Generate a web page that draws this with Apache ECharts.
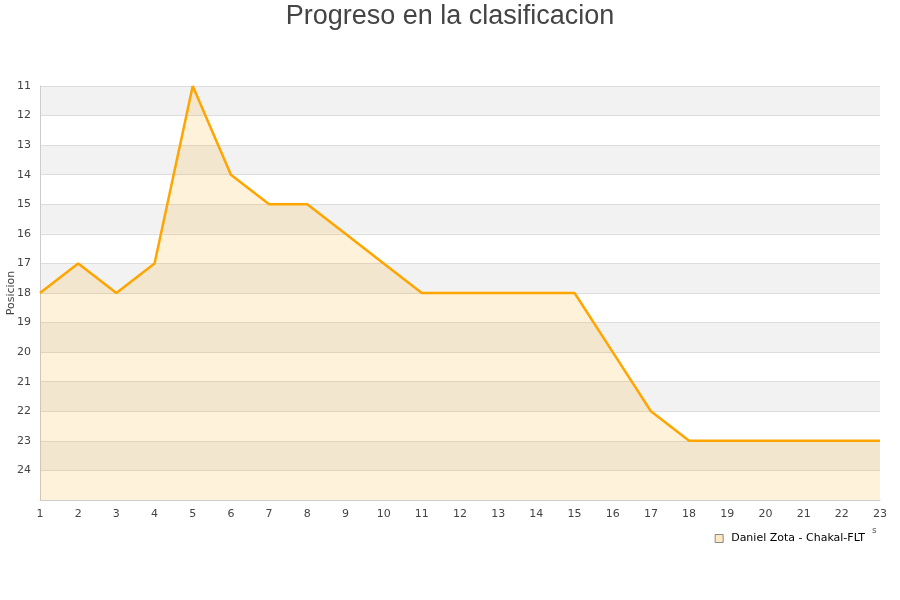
<!DOCTYPE html>
<html>
<head>
<meta charset="utf-8">
<script src="https://cdn.jsdelivr.net/npm/echarts@6/dist/echarts.min.js"></script>
<style>html,body{margin:0;padding:0;background:#fff}#c{width:900px;height:600px}</style>
</head>
<body>
<div id="c"></div>
<script>
const jornadas = ['1','2','3','4','5','6','7','8','9','10','11','12','13','14','15','16','17','18','19','20','21','22','23'];
const posiciones = [18,17,18,17,11,14,15,15,16,17,18,18,18,18,18,20,22,23,23,23,23,23,23];
const seriesName = 'Daniel Zota - Chakal-FLT';
const titleText = 'Progreso en la clasificacion';
const yName = 'Posicion';

const chart = echarts.init(document.getElementById('c'));
chart.setOption({
  animation: false,
  title: { text: titleText, left: 'center', top: -2, textStyle: { fontSize: 27, fontWeight: 'normal', color: '#444', fontFamily: 'Liberation Sans' } },
  grid: { left: 40, right: 20, top: 86, bottom: 100, containLabel: false, outerBoundsMode: 'none' },
  legend: {
    right: 30, top: 528, itemWidth: 8, itemHeight: 8, icon: 'rect',
    textStyle: { fontSize: 11, color: '#000', fontFamily: 'DejaVu Sans', padding: [0, 0, 0, 3] },
    data: [{ name: seriesName, itemStyle: { color: '#fde9c4', borderColor: '#888', borderWidth: 1 } }]
  },
  graphic: [
    { type: 'text', left: 872, top: 526, style: { text: 's', fontSize: 9, fill: '#555', fontFamily: 'DejaVu Sans' } },
    { type: 'text', x: 11, y: 293, rotation: Math.PI / 2,
      style: { text: yName, fontSize: 11, fill: '#444', fontFamily: 'DejaVu Sans', align: 'center', verticalAlign: 'middle' } }
  ],
  xAxis: {
    type: 'category', data: jornadas, boundaryGap: false,
    axisLine: { lineStyle: { color: '#ccc' } },
    axisTick: { show: false },
    axisLabel: { color: '#444', fontSize: 11, fontFamily: 'DejaVu Sans', margin: 9 },
    splitLine: { show: false }
  },
  yAxis: {
    type: 'value', inverse: true, min: 11, max: 25, interval: 1,
    axisLine: { show: true, lineStyle: { color: '#ccc' } },
    axisTick: { show: false },
    axisLabel: { color: '#444', fontSize: 11, fontFamily: 'DejaVu Sans', margin: 9,
      formatter: v => (v === 25 ? '' : String(v)) },
    splitLine: { show: true, lineStyle: { color: '#ddd' } },
    splitArea: { show: true, areaStyle: { color: ['#f2f2f2', '#ffffff'] } }
  },
  series: [{
    name: seriesName, type: 'line', data: posiciones, showSymbol: false, symbol: 'none',
    lineStyle: { color: '#ffa500', width: 2.5 },
    itemStyle: { color: '#ffa500' },
    areaStyle: { color: 'rgba(255,165,0,0.2)', origin: 'end' }
  }]
});
</script>
</body>
</html>
